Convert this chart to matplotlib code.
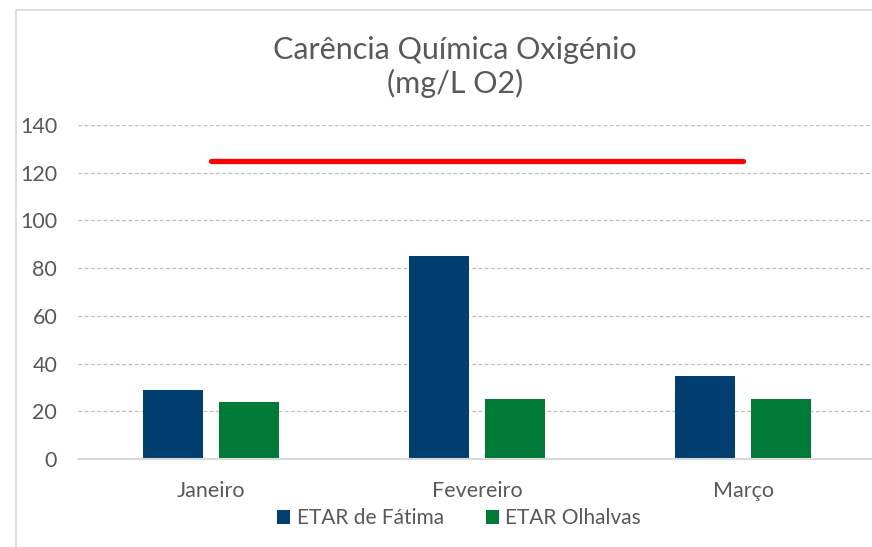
import matplotlib
matplotlib.use("Agg")
import matplotlib.pyplot as plt
from matplotlib.patches import Rectangle
import numpy as np

categories = ["Janeiro", "Fevereiro", "Março"]
series_names = ["ETAR de Fátima", "ETAR Olhalvas"]
fatima = [29, 85, 35]
olhalvas = [24, 25, 25]
limit_value = 125
yticks = [0, 20, 40, 60, 80, 100, 120, 140]
title = "Carência Química Oxigénio\n(mg/L O2)"

navy = "#003f6f"
green = "#007a37"
textc = "#595959"

plt.rcParams['font.family'] = ['Lato', 'DejaVu Sans']

W, H = 872, 547
fig = plt.figure(figsize=(W/100, H/100), dpi=100)

# outer chart border (cropped)
fig.patches.append(Rectangle((16/W, -0.1), 1.2, 1 - 10/H + 0.1, transform=fig.transFigure,
                             fill=False, edgecolor="#d9d9d9", linewidth=1.2))

left, right = 78, 876
top, bottom = 125, 459
ax = fig.add_axes([left/W, 1 - bottom/H, (right-left)/W, (bottom-top)/H])
ax.set_xlim(-0.5, 2.5)
ax.set_ylim(0, 140)

x = np.arange(len(categories))
bw = 0.2256
off = 0.143
ax.bar(x - off, fatima, bw, color=navy, label=series_names[0], zorder=3)
ax.bar(x + off, olhalvas, bw, color=green, label=series_names[1], zorder=3)
ax.plot([x[0], x[-1]], [limit_value, limit_value], color="#ff0000", linewidth=3.8,
        solid_capstyle="round", zorder=4)

ax.set_yticks(yticks)
ax.set_xticks(x)
ax.set_xticklabels(categories)
ax.tick_params(axis='both', length=0, labelcolor=textc)
ax.tick_params(axis='y', pad=15, labelsize=15.5)
ax.tick_params(axis='x', pad=16, labelsize=15.5)
ax.yaxis.grid(True, linestyle=(0, (3, 2)), color="#bfbfbf", linewidth=0.9, zorder=0)
ax.set_axisbelow(True)
for s in ["top", "right", "left"]:
    ax.spines[s].set_visible(False)
ax.spines["bottom"].set_color("#d9d9d9")
ax.spines["bottom"].set_linewidth(1.5)
ax.spines["bottom"].set_zorder(5)

fig.text(455/W, 1 - 67/H, title, ha="center", va="center", fontsize=22,
         color=textc, linespacing=1.2)

fig.legend(loc="center", bbox_to_anchor=(459/W, 1 - 518/H), ncol=2, frameon=False,
           fontsize=15, labelcolor=textc, handlelength=0.65, handleheight=0.65,
           handletextpad=0.3, columnspacing=2.0)

fig.savefig("out.png", dpi=100)
